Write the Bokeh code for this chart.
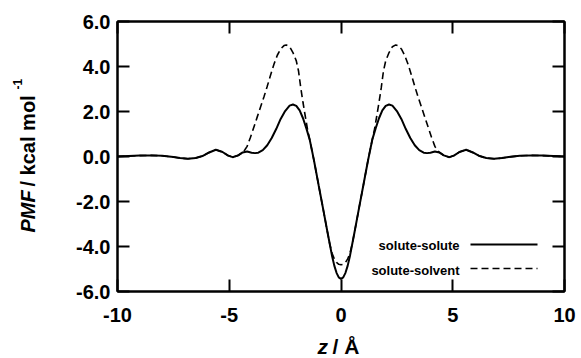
import math
from bokeh.plotting import figure
from bokeh.models import (LinearAxis, FixedTicker, NumeralTickFormatter, Label,
                          CustomJSTickFormatter, Range1d)
from bokeh.embed import file_html
from bokeh.resources import INLINE

# ---------------- data ----------------
z_solute = [-10, -9.5, -9, -8.5, -8, -7.5, -7.2, -6.85, -6.5, -6.2, -5.9, -5.6, -5.3,
            -5.05, -4.85, -4.6, -4.4, -4.2, -4.0, -3.85, -3.7, -3.5, -3.3, -3.1, -2.9,
            -2.7, -2.5, -2.3, -2.15, -2.0, -1.85, -1.7, -1.55, -1.4, -1.3, -1.2, -1.0,
            -0.8, -0.6, -0.4, -0.3, -0.2, -0.1, 0,
            0.1, 0.2, 0.3, 0.4, 0.6, 0.8, 1.0, 1.2, 1.3, 1.4, 1.55, 1.7, 1.85, 2.0,
            2.15, 2.3, 2.5, 2.7, 2.9, 3.1, 3.3, 3.5, 3.7, 3.85, 4.0, 4.2, 4.4, 4.6,
            4.85, 5.05, 5.3, 5.6, 5.9, 6.2, 6.5, 6.85, 7.2, 7.5, 8, 8.5, 9, 9.5, 10]
pmf_solute = [0.0, 0.02, 0.04, 0.05, 0.03, -0.02, -0.07, -0.1, -0.07, 0.02, 0.18, 0.3, 0.2,
              0.04, -0.03, 0.05, 0.18, 0.22, 0.17, 0.15, 0.17, 0.28, 0.5, 0.82, 1.22,
              1.67, 2.02, 2.26, 2.31, 2.25, 2.05, 1.7, 1.25, 0.75, 0.27, -0.22, -1.28,
              -2.33, -3.39, -4.42, -4.85, -5.17, -5.37, -5.44,
              -5.37, -5.17, -4.85, -4.42, -3.39, -2.33, -1.28, -0.22, 0.27, 0.75, 1.25, 1.7, 2.05, 2.25,
              2.31, 2.26, 2.02, 1.67, 1.22, 0.82, 0.5, 0.28, 0.17, 0.15, 0.17, 0.22, 0.18, 0.05,
              -0.03, 0.04, 0.2, 0.3, 0.18, 0.02, -0.07, -0.1, -0.07, -0.02, 0.03, 0.05, 0.04, 0.02, 0.0]

z_solvent = [-10, -9.5, -9, -8.5, -8, -7.5, -7.2, -6.85, -6.5, -6.2, -5.9, -5.6, -5.3,
             -5.05, -4.85, -4.6, -4.4, -4.3, -4.2, -4.05, -3.9, -3.75, -3.6, -3.45, -3.3,
             -3.15, -3.0, -2.85, -2.7, -2.55, -2.45, -2.3, -2.15, -2.0, -1.9, -1.8, -1.7,
             -1.6, -1.5, -1.4, -1.3, -1.2, -1.0, -0.8, -0.6, -0.5, -0.4, -0.3, -0.2, -0.1, 0,
             0.1, 0.2, 0.3, 0.4, 0.5, 0.6, 0.8, 1.0, 1.2, 1.3, 1.4, 1.5, 1.6, 1.7, 1.8, 1.9,
             2.0, 2.15, 2.3, 2.45, 2.55, 2.7, 2.85, 3.0, 3.15, 3.3, 3.45, 3.6, 3.75, 3.9,
             4.05, 4.2, 4.3, 4.4, 4.6, 4.85, 5.05, 5.3, 5.6, 5.9, 6.2, 6.5, 6.85, 7.2, 7.5,
             8, 8.5, 9, 9.5, 10]
pmf_solvent = [0.0, 0.02, 0.04, 0.05, 0.03, -0.02, -0.07, -0.1, -0.07, 0.02, 0.18, 0.3, 0.2,
               0.04, -0.03, 0.05, 0.18, 0.3, 0.45, 0.86, 1.3, 1.75, 2.2, 2.64, 3.12,
               3.62, 4.1, 4.5, 4.78, 4.93, 4.96, 4.88, 4.62, 4.25, 3.8, 3.05, 2.4,
               1.8, 1.22, 0.75, 0.27, -0.22, -1.28, -2.33, -3.39, -3.9, -4.3, -4.55, -4.71, -4.79, -4.81,
               -4.79, -4.71, -4.55, -4.3, -3.9, -3.39, -2.33, -1.28, -0.22, 0.27, 0.75, 1.22, 1.8, 2.4, 3.05, 3.8,
               4.25, 4.62, 4.88, 4.96, 4.93, 4.78, 4.5, 4.1, 3.62, 3.12, 2.64, 2.2, 1.75, 1.3,
               0.86, 0.45, 0.3, 0.18, 0.05, -0.03, 0.04, 0.2, 0.3, 0.18, 0.02, -0.07, -0.1, -0.07, -0.02,
               0.03, 0.05, 0.04, 0.02, 0.0]

x_ticks = [-10, -5, 0, 5, 10]
y_ticks = [-6, -4, -2, 0, 2, 4, 6]
series_labels = ["solute-solute", "solute-solvent"]

# ---------------- figure ----------------
FONT = "Liberation Sans"
p = figure(width=581, height=358, output_backend="svg", toolbar_location=None,
           x_range=Range1d(-10, 10), y_range=Range1d(-6, 6),
           min_border_left=117, min_border_right=17, min_border_top=21, min_border_bottom=67)
p.background_fill_color = "white"
p.border_fill_color = "white"
p.grid.visible = False
p.outline_line_color = "black"
p.outline_line_width = 2

def style_axis(ax, labels=True):
    ax.axis_line_width = 2
    ax.axis_line_color = "black"
    ax.major_tick_in = 12
    ax.major_tick_out = 0
    ax.major_tick_line_width = 2
    ax.major_tick_line_color = "black"
    ax.minor_tick_line_color = None
    if labels:
        ax.major_label_text_font = FONT
        ax.major_label_text_font_size = "20px"
        ax.major_label_text_font_style = "bold"
        ax.major_label_text_color = "black"
    else:
        ax.formatter = CustomJSTickFormatter(code="return ''")
        ax.major_label_text_font_size = "1px"
        ax.major_label_standoff = 0

p.xaxis.ticker = FixedTicker(ticks=x_ticks)
p.yaxis.ticker = FixedTicker(ticks=y_ticks)
p.xaxis.formatter = NumeralTickFormatter(format="0")
p.yaxis.formatter = NumeralTickFormatter(format="0.0")
style_axis(p.xaxis[0])
style_axis(p.yaxis[0])
p.xaxis.major_label_standoff = 16
p.yaxis.major_label_standoff = 7

top = LinearAxis(ticker=FixedTicker(ticks=x_ticks))
right = LinearAxis(ticker=FixedTicker(ticks=y_ticks))
style_axis(top, labels=False)
style_axis(right, labels=False)
p.add_layout(top, "above")
p.add_layout(right, "right")

# curves
p.line(z_solute, pmf_solute, line_color="black", line_width=2)
p.line(z_solvent, pmf_solvent, line_color="black", line_width=1.6, line_dash="7 4")

# helpers: page pixel -> data coordinates (frame: x 117..564, y 21..291 on page)
def dx(px):
    return -10 + (px - 117) * 20 / 447

def dy(py):
    return 6 - (py - 21) * 12 / 270

# legend (label left, sample right)
leg_rows = [(245, 244, None), (270, 268, "7 4")]
for (ty, ly, dash), lab in zip(leg_rows, series_labels):
    p.add_layout(Label(x=dx(459), y=dy(ty), text=lab, text_align="right", text_baseline="middle",
                       text_font=FONT, text_font_size="13px", text_font_style="bold",
                       text_color="black"))
    kw = dict(line_color="black", line_width=2 if dash is None else 1.6)
    if dash:
        kw["line_dash"] = dash
    p.segment(x0=[dx(470)], y0=[dy(ly)], x1=[dx(537)], y1=[dy(ly)], **kw)

# axis titles: labels held in side panels (so they are not clipped to the frame),
# positioned in data units through the plot's own scales
def lab(px, py, text, size, style, angle=0.0):
    return Label(x=dx(px), y=dy(py), text=text, angle=angle,
                 text_align="left", text_baseline="alphabetic",
                 text_font=FONT, text_font_size=size, text_font_style=style, text_color="black")

p.add_layout(lab(27, 232, "PMF", "20px", "bold italic", math.pi / 2), "left")
p.add_layout(lab(27, 186, "/ kcal mol", "20px", "bold", math.pi / 2), "left")
p.add_layout(lab(17, 89, "-1", "12px", "bold", math.pi / 2), "left")
p.add_layout(lab(317, 346, "z", "21px", "bold italic"), "right")
p.add_layout(lab(332, 346, "/ Å", "21px", "bold"), "below")

open("out.html", "w").write(file_html(p, INLINE))
